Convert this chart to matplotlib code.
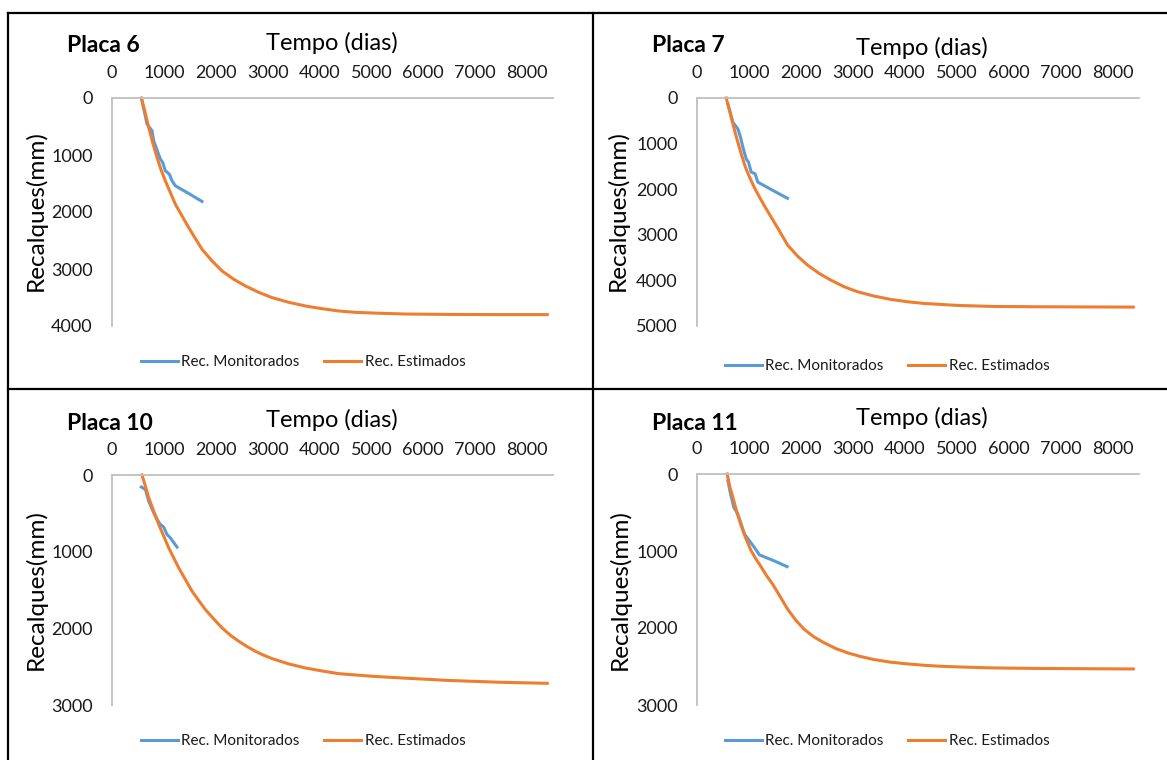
import matplotlib
matplotlib.use("Agg")
import matplotlib.pyplot as plt
from matplotlib.lines import Line2D

plt.rcParams["font.family"] = ["Lato", "DejaVu Sans"]

# ---- data: settlement plates (time in days, settlement in mm) ----
x_ticks = [0, 1000, 2000, 3000, 4000, 5000, 6000, 7000, 8000]

# Placa 6
dias_p6_mon = [578, 675, 771, 803, 932, 977, 1028, 1105, 1157, 1221, 1478, 1735]
rec_p6_mon = [47, 457, 574, 750, 1072, 1130, 1277, 1335, 1453, 1540, 1675, 1815]
dias_p6_est = [565, 630, 707, 784, 867, 945, 1028, 1125, 1221, 1349, 1478, 1607,
               1735, 1928, 2121, 2345, 2570, 2827, 3084, 3406, 3727, 4048, 4370,
               4691, 5012, 5655, 6500, 7500, 8390]
rec_p6_est = [0, 223, 515, 779, 1043, 1259, 1453, 1658, 1863, 2068, 2273, 2466,
              2653, 2858, 3034, 3180, 3297, 3409, 3502, 3584, 3649, 3696, 3737,
              3760, 3772, 3790, 3797, 3800, 3800]

# Placa 7
dias_p7_mon = [594, 690, 786, 837, 882, 946, 991, 1042, 1118, 1169, 1457, 1740]
rec_p7_mon = [131, 532, 678, 860, 1079, 1334, 1407, 1625, 1662, 1844, 2026, 2200]
dias_p7_est = [562, 626, 690, 767, 850, 927, 1010, 1105, 1201, 1310, 1425, 1585,
               1745, 1936, 2128, 2352, 2575, 2831, 3086, 3406, 3725, 4045, 4364,
               5003, 5642, 6500, 7500, 8390]
rec_p7_est = [0, 277, 569, 897, 1225, 1502, 1735, 1968, 2172, 2391, 2609, 2916,
              3229, 3470, 3666, 3849, 3994, 4140, 4249, 4344, 4417, 4468, 4505,
              4548, 4570, 4578, 4582, 4585]

# Placa 10
dias_p10_mon = [565, 643, 707, 803, 868, 932, 996, 1060, 1124, 1253]
rec_p10_mon = [157, 187, 340, 492, 579, 644, 679, 775, 819, 940]
dias_p10_est = [578, 643, 707, 803, 900, 996, 1092, 1189, 1285, 1414, 1542, 1671,
                1799, 1960, 2121, 2281, 2442, 2603, 2763, 2924, 3084, 3406, 3727,
                4048, 4370, 4691, 5012, 5334, 5655, 6500, 7500, 8390]
rec_p10_est = [0, 144, 296, 470, 644, 797, 949, 1080, 1210, 1363, 1515, 1637,
               1755, 1877, 1994, 2090, 2168, 2238, 2299, 2351, 2395, 2464, 2517,
               2556, 2591, 2608, 2625, 2638, 2650, 2680, 2704, 2717]

# Placa 11
dias_p11_mon = [594, 645, 709, 786, 850, 914, 1010, 1105, 1201, 1457, 1732]
rec_p11_mon = [87, 260, 434, 521, 651, 782, 868, 955, 1051, 1120, 1203]
dias_p11_est = [581, 626, 690, 767, 850, 946, 1042, 1137, 1221, 1329, 1457, 1604,
                1745, 1904, 2064, 2256, 2447, 2671, 2895, 3150, 3406, 3725, 4045,
                4364, 4684, 5003, 5642, 6500, 7500, 8390]
rec_p11_est = [0, 152, 304, 499, 673, 847, 999, 1107, 1194, 1311, 1433, 1598,
               1758, 1902, 2019, 2119, 2193, 2267, 2323, 2371, 2410, 2444, 2466,
               2484, 2497, 2505, 2518, 2525, 2529, 2532]

placas = ["Placa 6", "Placa 7", "Placa 10", "Placa 11"]
y_max = [4000, 5000, 3000, 3000]
series = [
    (dias_p6_mon, rec_p6_mon, dias_p6_est, rec_p6_est),
    (dias_p7_mon, rec_p7_mon, dias_p7_est, rec_p7_est),
    (dias_p10_mon, rec_p10_mon, dias_p10_est, rec_p10_est),
    (dias_p11_mon, rec_p11_mon, dias_p11_est, rec_p11_est),
]

# ---- layout (pixel geometry of a 1167 x 760 canvas) ----
W, H = 1167, 760
fig = plt.figure(figsize=(W / 100, H / 100), dpi=100)


def fx(px):
    return px / W


def fy(py):
    return 1 - py / H


# plot boxes: left, right, top, bottom in pixels
boxes = [(112, 553, 98, 326), (697, 1139, 98, 326),
         (112, 553, 475, 705), (697, 1139, 474, 705)]
titles_xy = [(67, 46), (652, 45), (67, 423), (652, 423)]
xlabel_xy = [(332, 43), (922, 48), (332, 420), (922, 418)]
ylabel_xy = [(36, 211), (618, 211), (36, 590), (620, 590)]
legend_xy = [(141, 362), (725, 366), (141, 741), (725, 741)]

BLUE = "#5B9BD5"
ORANGE = "#ED7D31"
GRID = "#BFBFBF"
TXT = "#1a1a1a"

for i in range(4):
    l, r, t, b = boxes[i]
    ax = fig.add_axes([fx(l), fy(b), fx(r) - fx(l), fy(t) - fy(b)])
    dm, rm, de, re_ = series[i]
    h1, = ax.plot(dm, rm, color=BLUE, lw=2.2, clip_on=False,
                  solid_joinstyle="round", label="Rec. Monitorados")
    h2, = ax.plot(de, re_, color=ORANGE, lw=2.2, clip_on=False,
                  solid_joinstyle="round", label="Rec. Estimados")
    ax.set_xlim(0, 8500)
    ax.set_ylim(y_max[i], 0)
    ax.set_xticks(x_ticks)
    ax.set_yticks(range(0, y_max[i] + 1, 1000))
    ax.xaxis.tick_top()
    ax.tick_params(axis="x", length=0, pad=12, labelsize=13, colors=TXT)
    ax.tick_params(axis="y", length=0, pad=14, labelsize=13, colors=TXT)
    for side in ("right", "bottom"):
        ax.spines[side].set_visible(False)
    for side in ("top", "left"):
        ax.spines[side].set_color(GRID)
        ax.spines[side].set_linewidth(1.3)
    ax.patch.set_alpha(0)

    tx, ty = titles_xy[i]
    fig.text(fx(tx), fy(ty), placas[i], fontsize=16.5, fontweight="bold",
             ha="left", va="center", color="black")
    lx, ly = xlabel_xy[i]
    fig.text(fx(lx), fy(ly), "Tempo (dias)", fontsize=17,
             ha="center", va="center", color="black")
    yx, yy = ylabel_xy[i]
    fig.text(fx(yx), fy(yy), "Recalques(mm)", fontsize=17.5, rotation=90,
             ha="center", va="center", color="black")

    gx, gy = legend_xy[i]
    ax.legend(handles=[h1, h2], loc="center left",
              bbox_to_anchor=(fx(gx), fy(gy)), bbox_transform=fig.transFigure,
              ncol=2, frameon=False, fontsize=11, borderpad=0,
              borderaxespad=0, handlelength=2.4, handletextpad=0.25,
              columnspacing=1.6, labelcolor=TXT)

# panel frame lines
frame_lines = [((8, 1167), (13, 13)), ((8, 8), (13, 760)),
               ((593, 593), (13, 760)), ((8, 1167), (389, 389))]
for xs, ys in frame_lines:
    fig.add_artist(Line2D([fx(v) for v in xs], [fy(v) for v in ys],
                          transform=fig.transFigure, color="black", lw=1.6))

fig.savefig("out.png", dpi=100)
